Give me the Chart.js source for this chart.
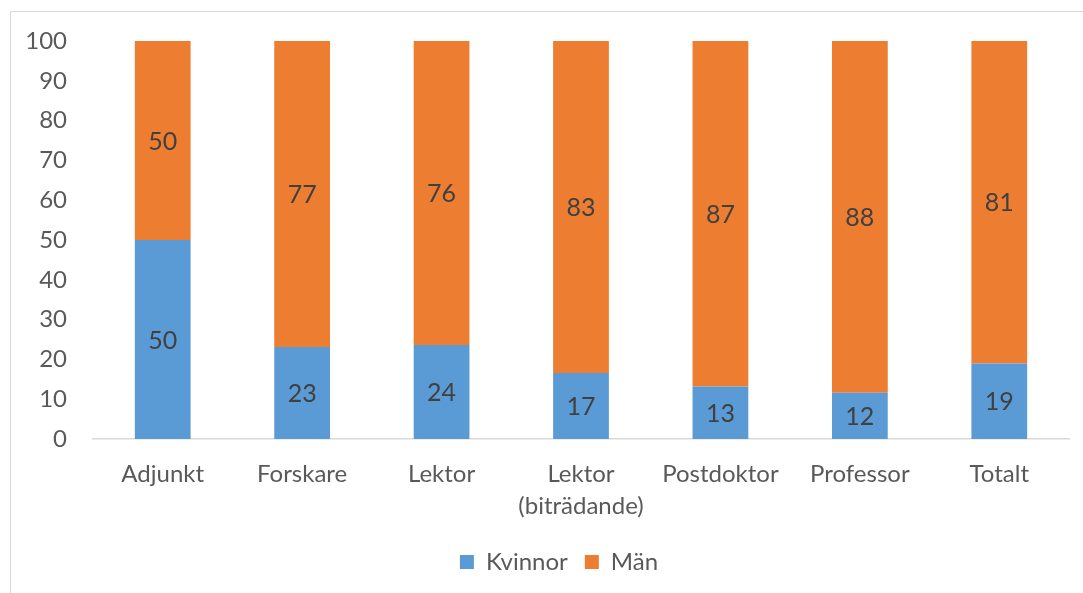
<!DOCTYPE html>
<html>
<head>
<meta charset="utf-8">
<script src="https://cdn.jsdelivr.net/npm/chart.js@4"></script>
<style>
html,body{margin:0;padding:0;background:#fff;overflow:hidden;}
#wrap{position:relative;width:1083px;height:593px;}
#frame{position:absolute;left:10px;top:11px;width:1200px;height:700px;border-top:1px solid #d9d9d9;border-left:1px solid #d9d9d9;}
canvas{position:absolute;left:0;top:0;}
</style>
</head>
<body>
<div id="wrap"><div id="frame"></div><canvas id="c" width="1083" height="593"></canvas></div>
<script>
const categories = ['Adjunkt', 'Forskare', 'Lektor', ['Lektor', '(biträdande)'], 'Postdoktor', 'Professor', 'Totalt'];
const kvinnor = [50, 23.1, 23.6, 16.6, 13.2, 11.6, 19.0];
const man = [50, 76.9, 76.4, 83.4, 86.8, 88.4, 81.0];
const yTicks = [0, 10, 20, 30, 40, 50, 60, 70, 80, 90, 100];

const FONT = 'Lato';
const barLabels = {
  id: 'barLabels',
  afterDatasetsDraw(chart) {
    const ctx = chart.ctx;
    ctx.save();
    ctx.font = '25px ' + FONT;
    ctx.fillStyle = '#404040';
    ctx.textAlign = 'center';
    ctx.textBaseline = 'middle';
    chart.data.datasets.forEach((ds, i) => {
      const meta = chart.getDatasetMeta(i);
      meta.data.forEach((el, j) => {
        const p = el.getProps(['x', 'y', 'base'], true);
        ctx.fillText(String(Math.round(ds.data[j])), p.x, (p.y + p.base) / 2 + 1);
      });
    });
    ctx.restore();
  }
};
// shift the legend box so it is centred like the original
const legendShift = {
  id: 'legendShift',
  afterLayout(chart) {
    if (chart.legend) { chart.legend.left += 49; }
  }
};

new Chart(document.getElementById('c'), {
  type: 'bar',
  data: {
    labels: categories,
    datasets: [
      { label: 'Kvinnor', data: kvinnor, backgroundColor: '#5B9BD5', borderWidth: 0 },
      { label: 'Män', data: man, backgroundColor: '#ED7D31', borderWidth: 0 }
    ]
  },
  options: {
    responsive: false,
    animation: false,
    devicePixelRatio: 1,
    datasets: { bar: { barPercentage: 0.4, categoryPercentage: 1 } },
    layout: { padding: { left: 0, right: 14, top: 41, bottom: 9 } },
    plugins: {
      tooltip: { enabled: false },
      legend: {
        position: 'bottom',
        labels: { boxWidth: 14, boxHeight: 14, padding: 17, color: '#595959', font: { family: FONT, size: 24 } }
      }
    },
    scales: {
      x: {
        stacked: true,
        grid: { display: false, drawTicks: false },
        border: { display: true, color: '#d9d9d9', width: 1.5 },
        ticks: { color: '#595959', padding: 20, maxRotation: 0, autoSkip: false, font: { family: FONT, size: 24, lineHeight: 1.3 } },
        afterFit(s) { s.height = 94; }
      },
      y: {
        stacked: true,
        min: 0, max: 100,
        afterBuildTicks(s) { s.ticks = yTicks.map(v => ({ value: v })); },
        grid: { display: false, drawTicks: false },
        border: { display: false },
        ticks: { color: '#595959', padding: 26, font: { family: FONT, size: 24 } },
        afterFit(s) { s.width = 93; }
      }
    }
  },
  plugins: [barLabels, legendShift]
});
</script>
</body>
</html>
